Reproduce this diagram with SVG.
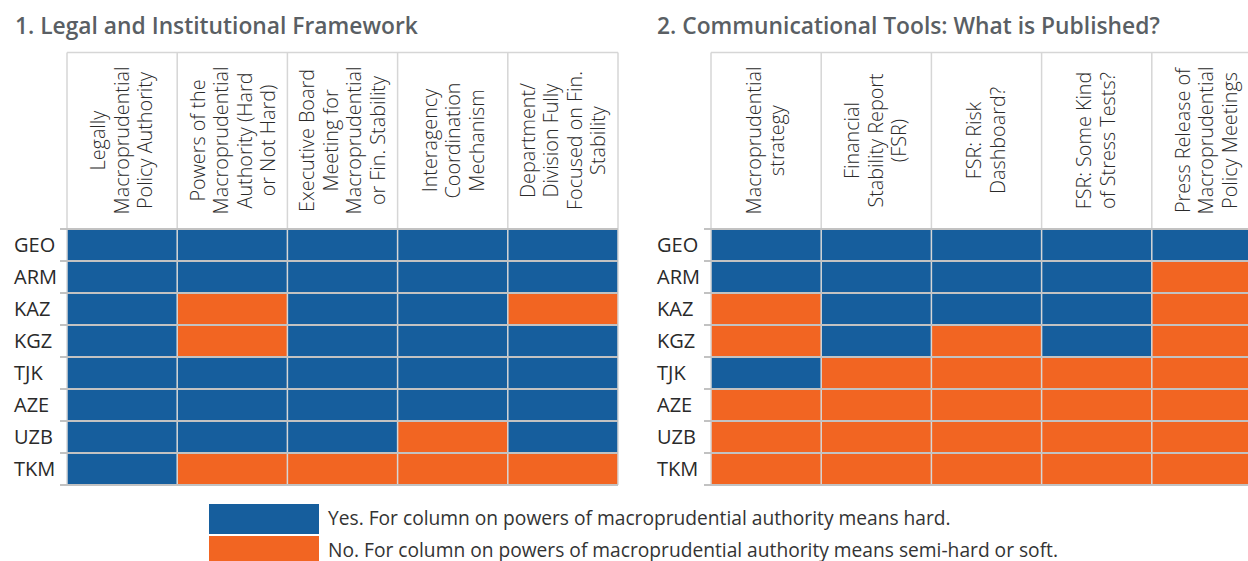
<svg xmlns="http://www.w3.org/2000/svg" width="1248" height="561" viewBox="0 0 1248 561">
<style>
.title{font-family:"Open Sans",Lato,sans-serif;font-weight:600;font-size:22.8px;fill:#5a5f64}
.hdr{font-family:"Open Sans",Lato,sans-serif;font-weight:300;font-size:19.8px;fill:#2a2a2a;text-anchor:middle}
.row{font-family:"Open Sans",Lato,sans-serif;font-weight:400;font-size:20px;fill:#2a2a2a}
.leg{font-family:"Open Sans",Lato,sans-serif;font-weight:400;font-size:19.2px;fill:#333333}
.b{fill:#165E9D}
.o{fill:#F26522}
.vl{stroke:#d6d6d6;stroke-width:1.5;fill:none}
.hl{stroke:#c2c2c2;stroke-width:2;fill:none}
</style>
<rect width="1248" height="561" fill="#ffffff"/>

<g id="title1"><text class="title" x="15" y="34">1. Legal and Institutional Framework</text></g>
<g id="title2"><text class="title" x="657" y="34">2. Communicational Tools: What is Published?</text></g>

<g id="table1">
  <g id="table1-cells">
    <rect class="b" x="67" y="229" width="110.2" height="32"/><rect class="b" x="177.2" y="229" width="110.2" height="32"/><rect class="b" x="287.4" y="229" width="110.2" height="32"/><rect class="b" x="397.6" y="229" width="110.2" height="32"/><rect class="b" x="507.8" y="229" width="110.2" height="32"/>
    <rect class="b" x="67" y="261" width="110.2" height="32"/><rect class="b" x="177.2" y="261" width="110.2" height="32"/><rect class="b" x="287.4" y="261" width="110.2" height="32"/><rect class="b" x="397.6" y="261" width="110.2" height="32"/><rect class="b" x="507.8" y="261" width="110.2" height="32"/>
    <rect class="b" x="67" y="293" width="110.2" height="32"/><rect class="o" x="177.2" y="293" width="110.2" height="32"/><rect class="b" x="287.4" y="293" width="110.2" height="32"/><rect class="b" x="397.6" y="293" width="110.2" height="32"/><rect class="o" x="507.8" y="293" width="110.2" height="32"/>
    <rect class="b" x="67" y="325" width="110.2" height="32"/><rect class="o" x="177.2" y="325" width="110.2" height="32"/><rect class="b" x="287.4" y="325" width="110.2" height="32"/><rect class="b" x="397.6" y="325" width="110.2" height="32"/><rect class="b" x="507.8" y="325" width="110.2" height="32"/>
    <rect class="b" x="67" y="357" width="110.2" height="32"/><rect class="b" x="177.2" y="357" width="110.2" height="32"/><rect class="b" x="287.4" y="357" width="110.2" height="32"/><rect class="b" x="397.6" y="357" width="110.2" height="32"/><rect class="b" x="507.8" y="357" width="110.2" height="32"/>
    <rect class="b" x="67" y="389" width="110.2" height="32"/><rect class="b" x="177.2" y="389" width="110.2" height="32"/><rect class="b" x="287.4" y="389" width="110.2" height="32"/><rect class="b" x="397.6" y="389" width="110.2" height="32"/><rect class="b" x="507.8" y="389" width="110.2" height="32"/>
    <rect class="b" x="67" y="421" width="110.2" height="32"/><rect class="b" x="177.2" y="421" width="110.2" height="32"/><rect class="b" x="287.4" y="421" width="110.2" height="32"/><rect class="o" x="397.6" y="421" width="110.2" height="32"/><rect class="b" x="507.8" y="421" width="110.2" height="32"/>
    <rect class="b" x="67" y="453" width="110.2" height="32"/><rect class="o" x="177.2" y="453" width="110.2" height="32"/><rect class="o" x="287.4" y="453" width="110.2" height="32"/><rect class="o" x="397.6" y="453" width="110.2" height="32"/><rect class="o" x="507.8" y="453" width="110.2" height="32"/>
  </g>
  <g id="table1-grid">
    <path class="vl" d="M67,52.5H618M67,52.5V485M177.2,52.5V485M287.4,52.5V485M397.6,52.5V485M507.8,52.5V485M618,52.5V485"/>
    <path class="hl" d="M60,229H618M60,261H618M60,293H618M60,325H618M60,357H618M60,389H618M60,421H618M60,453H618M60,485H618"/>
  </g>
  <g id="table1-headers">
    <text class="hdr" transform="translate(122.1,140.5) rotate(-90)"><tspan x="0" y="-17">Legally</tspan><tspan x="0" y="6.5">Macroprudential</tspan><tspan x="0" y="30">Policy Authority</tspan></text>
    <text class="hdr" transform="translate(233.5,140.5) rotate(-90)"><tspan x="0" y="-28.75">Powers of the</tspan><tspan x="0" y="-5.25">Macroprudential</tspan><tspan x="0" y="18.25">Authority (Hard</tspan><tspan x="0" y="41.75">or Not Hard)</tspan></text>
    <text class="hdr" transform="translate(342.8,140.5) rotate(-90)"><tspan x="0" y="-28.75">Executive Board</tspan><tspan x="0" y="-5.25">Meeting for</tspan><tspan x="0" y="18.25">Macroprudential</tspan><tspan x="0" y="41.75">or Fin. Stability</tspan></text>
    <text class="hdr" transform="translate(453.5,140.5) rotate(-90)"><tspan x="0" y="-17">Interagency</tspan><tspan x="0" y="6.5">Coordination</tspan><tspan x="0" y="30">Mechanism</tspan></text>
    <text class="hdr" transform="translate(563.5,140.5) rotate(-90)"><tspan x="0" y="-28.75">Department/</tspan><tspan x="0" y="-5.25">Division Fully</tspan><tspan x="0" y="18.25">Focused on Fin.</tspan><tspan x="0" y="41.75">Stability</tspan></text>
  </g>
  <g id="table1-rows">
    <text class="row" x="14" y="252">GEO</text>
    <text class="row" x="14" y="284">ARM</text>
    <text class="row" x="14" y="316">KAZ</text>
    <text class="row" x="14" y="348">KGZ</text>
    <text class="row" x="14" y="380">TJK</text>
    <text class="row" x="14" y="412">AZE</text>
    <text class="row" x="14" y="444">UZB</text>
    <text class="row" x="14" y="476">TKM</text>
  </g>
</g>

<g id="table2">
  <g id="table2-cells">
    <rect class="b" x="711" y="229" width="110.2" height="32"/><rect class="b" x="821.2" y="229" width="110.2" height="32"/><rect class="b" x="931.4" y="229" width="110.2" height="32"/><rect class="b" x="1041.6" y="229" width="110.2" height="32"/><rect class="b" x="1151.8" y="229" width="110.2" height="32"/>
    <rect class="b" x="711" y="261" width="110.2" height="32"/><rect class="b" x="821.2" y="261" width="110.2" height="32"/><rect class="b" x="931.4" y="261" width="110.2" height="32"/><rect class="b" x="1041.6" y="261" width="110.2" height="32"/><rect class="o" x="1151.8" y="261" width="110.2" height="32"/>
    <rect class="o" x="711" y="293" width="110.2" height="32"/><rect class="b" x="821.2" y="293" width="110.2" height="32"/><rect class="b" x="931.4" y="293" width="110.2" height="32"/><rect class="b" x="1041.6" y="293" width="110.2" height="32"/><rect class="o" x="1151.8" y="293" width="110.2" height="32"/>
    <rect class="o" x="711" y="325" width="110.2" height="32"/><rect class="b" x="821.2" y="325" width="110.2" height="32"/><rect class="o" x="931.4" y="325" width="110.2" height="32"/><rect class="b" x="1041.6" y="325" width="110.2" height="32"/><rect class="o" x="1151.8" y="325" width="110.2" height="32"/>
    <rect class="b" x="711" y="357" width="110.2" height="32"/><rect class="o" x="821.2" y="357" width="110.2" height="32"/><rect class="o" x="931.4" y="357" width="110.2" height="32"/><rect class="o" x="1041.6" y="357" width="110.2" height="32"/><rect class="o" x="1151.8" y="357" width="110.2" height="32"/>
    <rect class="o" x="711" y="389" width="110.2" height="32"/><rect class="o" x="821.2" y="389" width="110.2" height="32"/><rect class="o" x="931.4" y="389" width="110.2" height="32"/><rect class="o" x="1041.6" y="389" width="110.2" height="32"/><rect class="o" x="1151.8" y="389" width="110.2" height="32"/>
    <rect class="o" x="711" y="421" width="110.2" height="32"/><rect class="o" x="821.2" y="421" width="110.2" height="32"/><rect class="o" x="931.4" y="421" width="110.2" height="32"/><rect class="o" x="1041.6" y="421" width="110.2" height="32"/><rect class="o" x="1151.8" y="421" width="110.2" height="32"/>
    <rect class="o" x="711" y="453" width="110.2" height="32"/><rect class="o" x="821.2" y="453" width="110.2" height="32"/><rect class="o" x="931.4" y="453" width="110.2" height="32"/><rect class="o" x="1041.6" y="453" width="110.2" height="32"/><rect class="o" x="1151.8" y="453" width="110.2" height="32"/>
  </g>
  <g id="table2-grid">
    <path class="vl" d="M711,52.5H1262M711,52.5V485M821.2,52.5V485M931.4,52.5V485M1041.6,52.5V485M1151.8,52.5V485"/>
    <path class="hl" d="M704,229H1262M704,261H1262M704,293H1262M704,325H1262M704,357H1262M704,389H1262M704,421H1262M704,453H1262M704,485H1262"/>
  </g>
  <g id="table2-headers">
    <text class="hdr" transform="translate(766.1,140.5) rotate(-90)"><tspan x="0" y="-5.25">Macroprudential</tspan><tspan x="0" y="18.25">strategy</tspan></text>
    <text class="hdr" transform="translate(876.3,140.5) rotate(-90)"><tspan x="0" y="-17">Financial</tspan><tspan x="0" y="6.5">Stability Report</tspan><tspan x="0" y="30">(FSR)</tspan></text>
    <text class="hdr" transform="translate(986.5,140.5) rotate(-90)"><tspan x="0" y="-5.25">FSR: Risk</tspan><tspan x="0" y="18.25">Dashboard?</tspan></text>
    <text class="hdr" transform="translate(1096.7,140.5) rotate(-90)"><tspan x="0" y="-5.25">FSR: Some Kind</tspan><tspan x="0" y="18.25">of Stress Tests?</tspan></text>
    <text class="hdr" transform="translate(1206.5,140.5) rotate(-90)"><tspan x="0" y="-17">Press Release of</tspan><tspan x="0" y="6.5">Macroprudential</tspan><tspan x="0" y="30">Policy Meetings</tspan></text>
  </g>
  <g id="table2-rows">
    <text class="row" x="657" y="252">GEO</text>
    <text class="row" x="657" y="284">ARM</text>
    <text class="row" x="657" y="316">KAZ</text>
    <text class="row" x="657" y="348">KGZ</text>
    <text class="row" x="657" y="380">TJK</text>
    <text class="row" x="657" y="412">AZE</text>
    <text class="row" x="657" y="444">UZB</text>
    <text class="row" x="657" y="476">TKM</text>
  </g>
</g>

<g id="legend">
  <g id="legend-yes">
    <rect class="b" x="209" y="504" width="110" height="30"/>
    <text class="leg" x="328" y="524.5">Yes. For column on powers of macroprudential authority means hard.</text>
  </g>
  <g id="legend-no">
    <rect class="o" x="209" y="536" width="110" height="26"/>
    <text class="leg" x="328" y="556.5">No. For column on powers of macroprudential authority means semi-hard or soft.</text>
  </g>
</g>
<g id="connectors"/>
</svg>
